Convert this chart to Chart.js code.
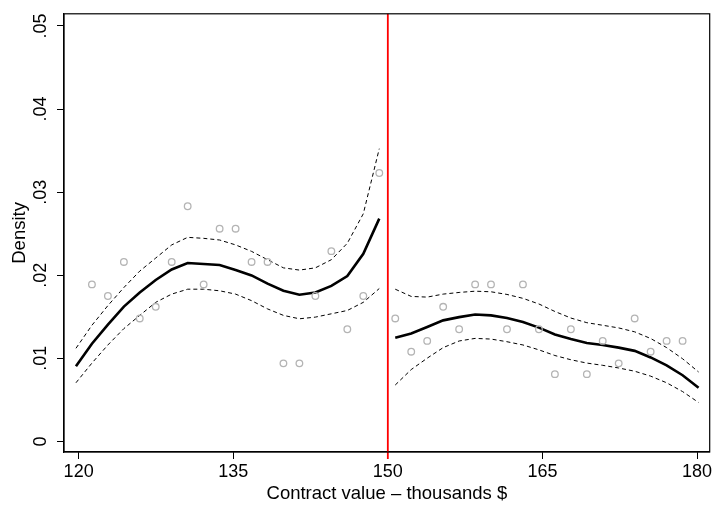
<!DOCTYPE html>
<html>
<head>
<meta charset="utf-8">
<script src="https://cdn.jsdelivr.net/npm/chart.js@4.4.1/dist/chart.umd.min.js"></script>
<style>
  html, body { margin: 0; padding: 0; background: #fff; }
  #wrap { width: 715px; height: 506px; }
</style>
</head>
<body>
<div id="wrap"><canvas id="myChart" width="715" height="506"></canvas></div>
<script>
// bin centres and observed density (grey circles)
const binX = [121.29, 122.84, 124.39, 125.93, 127.48, 129.03, 130.58, 132.13, 133.68, 135.23,
  136.78, 138.33, 139.87, 141.42, 142.97, 144.52, 146.07, 147.62, 149.17,
  150.72, 152.27, 153.82, 155.37, 156.92, 158.47, 160.01, 161.56, 163.11, 164.66,
  166.21, 167.76, 169.31, 170.85, 172.40, 173.95, 175.50, 177.05, 178.60];
const binDensity = [0.0189, 0.0175, 0.0216, 0.0148, 0.0162, 0.0216, 0.0283, 0.0189, 0.0256, 0.0256,
  0.0216, 0.0216, 0.0094, 0.0094, 0.0175, 0.0229, 0.0135, 0.0175, 0.0323,
  0.0148, 0.0108, 0.0121, 0.0162, 0.0135, 0.0189, 0.0189, 0.0135, 0.0189, 0.0135,
  0.0081, 0.0135, 0.0081, 0.0121, 0.0094, 0.0148, 0.0108, 0.0121, 0.0121];

// fitted density below the cutoff, with confidence band
const leftX = [119.74, 121.29, 122.84, 124.39, 125.93, 127.48, 129.03, 130.58, 132.13, 133.68,
  135.23, 136.78, 138.33, 139.87, 141.42, 142.97, 144.52, 146.07, 147.62, 149.17];
const leftFit = [0.00904, 0.01176, 0.01405, 0.01623, 0.01793, 0.01943, 0.0207, 0.02148, 0.02136, 0.02124,
  0.02062, 0.01998, 0.01899, 0.01813, 0.01765, 0.01793, 0.01872, 0.0199, 0.02258, 0.02681];
const leftUpper = [0.01121, 0.01398, 0.01635, 0.01852, 0.0205, 0.02207, 0.02365, 0.02456, 0.02444, 0.02424,
  0.02365, 0.02287, 0.02187, 0.02089, 0.02062, 0.02089, 0.02187, 0.02385, 0.0274, 0.03523];
const leftLower = [0.00706, 0.00943, 0.01161, 0.01358, 0.01517, 0.01674, 0.01773, 0.01832, 0.01832, 0.01813,
  0.01773, 0.01694, 0.01595, 0.01517, 0.01476, 0.01496, 0.01536, 0.01576, 0.01674, 0.0184];

// fitted density above the cutoff
const rightX = [150.72, 152.27, 153.82, 155.37, 156.92, 158.47, 160.01, 161.56, 163.11, 164.66,
  166.21, 167.76, 169.31, 170.85, 172.40, 173.95, 175.50, 177.05, 178.60, 180.15];
const rightFit = [0.01248, 0.01299, 0.01378, 0.01457, 0.01496, 0.01528, 0.01517, 0.01485, 0.01437, 0.0137,
  0.01287, 0.01232, 0.01185, 0.01161, 0.01129, 0.0109, 0.01011, 0.00916, 0.00797, 0.00647];
const rightUpper = [0.01832, 0.01745, 0.01737, 0.01773, 0.01793, 0.01808, 0.01801, 0.01769, 0.01722, 0.01654,
  0.01564, 0.01485, 0.01429, 0.01398, 0.01366, 0.01319, 0.01239, 0.01129, 0.00995, 0.00836];
const rightLower = [0.00679, 0.00865, 0.01002, 0.01129, 0.01209, 0.0124, 0.01232, 0.012, 0.01161, 0.01102,
  0.01034, 0.00983, 0.00943, 0.00916, 0.00884, 0.00845, 0.00786, 0.00706, 0.006, 0.00469];

const xTicks = [120, 135, 150, 165, 180];
const yTicks = [0, 0.01, 0.02, 0.03, 0.04, 0.05];
const cutoff = 150;

const pts = (xs, ys) => xs.map((x, i) => ({ x: x, y: ys[i] }));
const tickFont = { family: "'Liberation Sans', Arial, sans-serif", size: 18 };
const titleFont = { family: "'Liberation Sans', Arial, sans-serif", size: 18.5 };

const solid = { borderColor: '#000', borderWidth: 2.6, pointRadius: 0, fill: false, tension: 0 };
const dashed = { borderColor: '#000', borderWidth: 1, borderDash: [4, 3], pointRadius: 0, fill: false, tension: 0 };

// plot frame and the red cutoff line
const frame = {
  id: 'frame',
  afterDatasetsDraw(chart) {
    const { ctx, chartArea: a, scales } = chart;
    ctx.save();
    const cx = scales.x.getPixelForValue(cutoff);
    ctx.strokeStyle = '#ff0000';
    ctx.lineWidth = 1.8;
    ctx.beginPath();
    ctx.moveTo(cx, a.top);
    ctx.lineTo(cx, a.bottom + 7);
    ctx.stroke();
    ctx.strokeStyle = '#000';
    ctx.lineWidth = 1.2;
    ctx.strokeRect(a.left, a.top, a.right - a.left, a.bottom - a.top);
    ctx.restore();
  }
};

const ctx = document.getElementById('myChart');

new Chart(ctx, {
  type: 'line',
  data: {
    datasets: [
      { type: 'scatter', data: pts(binX, binDensity), showLine: false, pointRadius: 3.3,
        pointBorderWidth: 1.3, pointBorderColor: '#b4b4b4', pointBackgroundColor: 'rgba(0,0,0,0)' },
      Object.assign({ data: pts(leftX, leftUpper) }, dashed),
      Object.assign({ data: pts(leftX, leftLower) }, dashed),
      Object.assign({ data: pts(leftX, leftFit) }, solid),
      Object.assign({ data: pts(rightX, rightUpper) }, dashed),
      Object.assign({ data: pts(rightX, rightLower) }, dashed),
      Object.assign({ data: pts(rightX, rightFit) }, solid)
    ]
  },
  options: {
    responsive: false,
    animation: false,
    devicePixelRatio: 1,
    layout: { padding: { top: 7, right: 3.3, left: 0, bottom: 0 } },
    plugins: { legend: { display: false }, tooltip: { enabled: false } },
    scales: {
      x: {
        type: 'linear',
        min: 118.58,
        max: 181.23,
        afterBuildTicks: (s) => { s.ticks = xTicks.map(v => ({ value: v })); },
        afterFit: (s) => { s.height = 54; },
        grid: { drawOnChartArea: false, tickLength: 7, color: '#000', lineWidth: 1 },
        border: { color: '#000', width: 1.2 },
        ticks: { font: tickFont, color: '#000', padding: 2, maxRotation: 0, autoSkip: false },
        title: { display: true, text: 'Contract value \u2013 thousands $', font: titleFont, color: '#000',
          padding: { top: 1, bottom: 1 } }
      },
      y: {
        min: -0.00127,
        max: 0.05146,
        afterBuildTicks: (s) => { s.ticks = yTicks.map(v => ({ value: v })); },
        afterFit: (s) => { s.width = 64; },
        grid: { drawOnChartArea: false, tickLength: 7, color: '#000', lineWidth: 1 },
        border: { color: '#000', width: 1.2 },
        ticks: {
          font: tickFont, color: '#000', padding: 3, minRotation: 90, maxRotation: 90, crossAlign: 'center',
          callback: (v) => v === 0 ? '0' : Number(v).toFixed(2).replace(/^0/, '')
        },
        title: { display: true, text: 'Density', font: titleFont, color: '#000', padding: { top: 9, bottom: 9 } }
      }
    }
  },
  plugins: [frame]
});
</script>
</body>
</html>
